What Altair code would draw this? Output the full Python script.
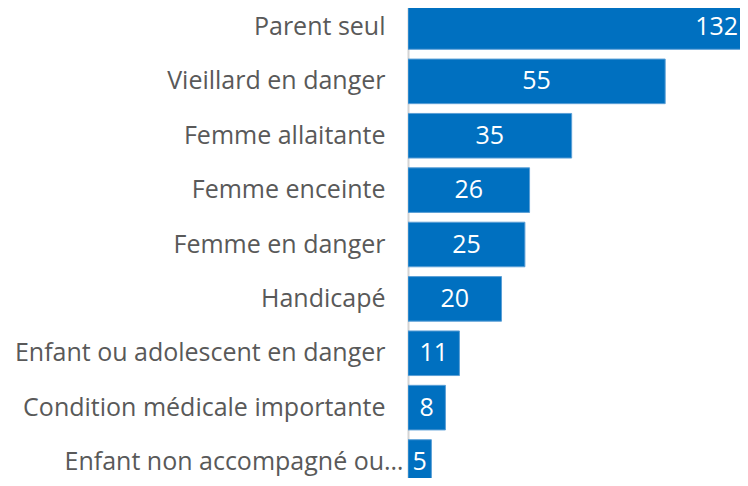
import altair as alt
import pandas as pd

categories = [
    "Parent seul",
    "Vieillard en danger",
    "Femme allaitante",
    "Femme enceinte",
    "Femme en danger",
    "Handicapé",
    "Enfant ou adolescent en danger",
    "Condition médicale importante",
    "Enfant non accompagné ou…",
]
values = [132, 55, 35, 26, 25, 20, 11, 8, 5]

df = pd.DataFrame({"cat": categories, "val": values})

FONT = "Open Sans"
LAST = categories[-1]

y_enc = alt.Y(
    "cat:N",
    sort=categories,
    scale=alt.Scale(range=[-8.2, 481.2], paddingInner=0.18, paddingOuter=0.09),
    axis=alt.Axis(
        title=None,
        ticks=False,
        domain=True,
        domainColor="#d4d4d4",
        domainWidth=2,
        labelFont=FONT,
        labelFontSize=25,
        labelColor="#595959",
        labelLimit=420,
        labelPadding={"condition": {"test": f"datum.value == '{LAST}'", "value": 5}, "value": 23},
        grid=False,
    ),
)

x_scale = alt.Scale(domain=[0, 71], nice=False, zero=True)

bars = alt.Chart(df).mark_bar(
    color="#0070c0", stroke="#5b9fd6", strokeWidth=1, clip=True
).encode(
    x=alt.X("val:Q", scale=x_scale, axis=None),
    y=y_enc,
)

labels = alt.Chart(df).transform_calculate(
    mid="datum.val / 2"
).mark_text(
    font=FONT, fontSize=25, color="white", align="center", baseline="middle"
).encode(
    x=alt.X("mid:Q", scale=x_scale, axis=None),
    y=alt.Y("cat:N", sort=categories),
    text="val:Q",
)

chart = (
    alt.layer(bars, labels)
    .properties(
        width=332,
        height=470,
        autosize=alt.AutoSizeParams(type="none"),
        padding={"left": 400, "top": 0, "right": 0, "bottom": 0},
    )
    .configure_view(stroke=None)
)

chart.save("out.html", embed_options={"renderer": "svg", "actions": False})
